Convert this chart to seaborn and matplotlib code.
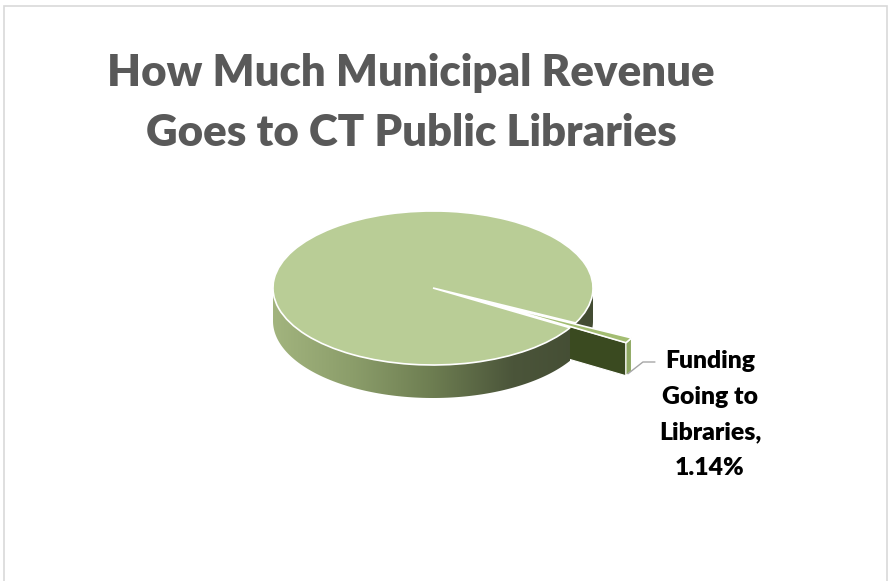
import numpy as np
import matplotlib
matplotlib.use("Agg")
import matplotlib.pyplot as plt
from matplotlib.patches import Polygon, Ellipse, Rectangle
from matplotlib.transforms import Affine2D
from matplotlib.colors import LinearSegmentedColormap
import seaborn as sns

sns.set_theme(style="white")
plt.rcParams['font.family'] = ['Lato', 'DejaVu Sans']

# datos del gráfico
categorias = ["Other Municipal Revenue", "Funding Going to Libraries"]
porcentajes = [98.86, 1.14]
titulo = "How Much Municipal Revenue\nGoes to CT Public Libraries"
etiqueta = "Funding\nGoing to\nLibraries,\n" + f"{porcentajes[1]:.2f}%"

# geometría (en píxeles, eje y hacia arriba)
W, H = 890, 581
cx, cy = 433, H - 288
R = 160
k = 77 / 160      # aplastado vertical -> efecto 3D
prof = 33         # grosor del disco

color_top = '#b9cd96'
color_slice_top = '#a3bd72'
color_caja = '#3a4a20'
color_borde_slice = '#8ea862'
grad = LinearSegmentedColormap.from_list(
    'lado', ['#a2b47e', '#8b9d6a', '#6d7d51', '#4b553a', '#434c33'])

fig = plt.figure(figsize=(8.9, 5.81), dpi=100)
ax = fig.add_axes([0, 0, 1, 1])

wedges, _ = ax.pie(porcentajes, startangle=-27, explode=[0, 0.4 * R],
                   radius=R, center=(cx, cy),
                   colors=[color_top, color_slice_top],
                   wedgeprops=dict(edgecolor='white', linewidth=1.2),
                   frame=True)
principal, porcion = wedges
aplastar = Affine2D().translate(-cx, -cy).scale(1, k).translate(cx, cy)


def punto(w, t, dz=0.0):
    t = np.radians(t)
    x = w.center[0] + w.r * np.cos(t)
    y = cy + (w.center[1] + w.r * np.sin(t) - cy) * k - dz
    return np.column_stack([np.atleast_1d(x), np.atleast_1d(y)])


def lateral(w, a, b, z):
    t = np.linspace(a, b, 120)
    arriba = punto(w, t)
    abajo = punto(w, t, prof)
    poly = Polygon(np.vstack([arriba, abajo[::-1]]), closed=True,
                   facecolor='none', edgecolor='none')
    ax.add_patch(poly)
    img = ax.imshow(np.linspace(0, 1, 256)[None, :], cmap=grad, aspect='auto',
                    extent=(cx - R, cx + R, cy - R * k - prof, cy + R * k),
                    zorder=z)
    img.set_clip_path(poly)


# lado trasero (a la derecha del hueco)
if principal.theta1 < 0:
    lateral(principal, principal.theta1, 0, 1)

# cara radial de la porción separada y su borde exterior
c_slice = np.array([porcion.center[0], cy + (porcion.center[1] - cy) * k])
borde = punto(porcion, porcion.theta1)[0]
caja = [c_slice, borde, borde - [0, prof], c_slice - [0, prof]]
ax.add_patch(Polygon(caja, closed=True, facecolor=color_caja,
                     edgecolor='white', linewidth=0.8, zorder=2))
t = np.linspace(porcion.theta1, porcion.theta2, 20)
arco = punto(porcion, t)
ax.add_patch(Polygon(np.vstack([arco, punto(porcion, t, prof)[::-1]]),
                     closed=True, facecolor=color_borde_slice,
                     edgecolor='white', linewidth=0.8, zorder=2))

# lado frontal del disco
lateral(principal, 180, principal.theta2, 3)

# hueco blanco + caras superiores
ax.add_patch(Ellipse((cx, cy), 2 * R, 2 * R * k, facecolor='white',
                     edgecolor='none', zorder=4))
for z, w in zip([5, 6], wedges):
    w.set_transform(aplastar + ax.transData)
    w.set_zorder(z)

# línea guía y etiqueta
p0 = borde - [0, prof]
ax.plot([p0[0] + 2, p0[0] + 17, p0[0] + 29], [p0[1] + 2, H - 362, H - 362],
        color='#a6a6a6', lw=1, zorder=7)
ax.text(710, H - 350, etiqueta, ha='center', va='top', fontsize=17.8,
        fontweight='heavy', color='black', linespacing=1.76, zorder=7)

# título
ax.text(411, H - 53, titulo, ha='center', va='top', fontsize=31.5,
        fontweight='heavy', color='#595959', linespacing=1.6)

# marco del área del gráfico
ax.add_patch(Rectangle((3.5, -20), 883, H - 5.5 + 20, facecolor='none',
                       edgecolor='#d9d9d9', linewidth=1.2, zorder=8))

ax.set_xlim(0, W)
ax.set_ylim(0, H)
ax.set_aspect('auto')
ax.axis('off')
fig.savefig('out.png', dpi=100, facecolor='white')
